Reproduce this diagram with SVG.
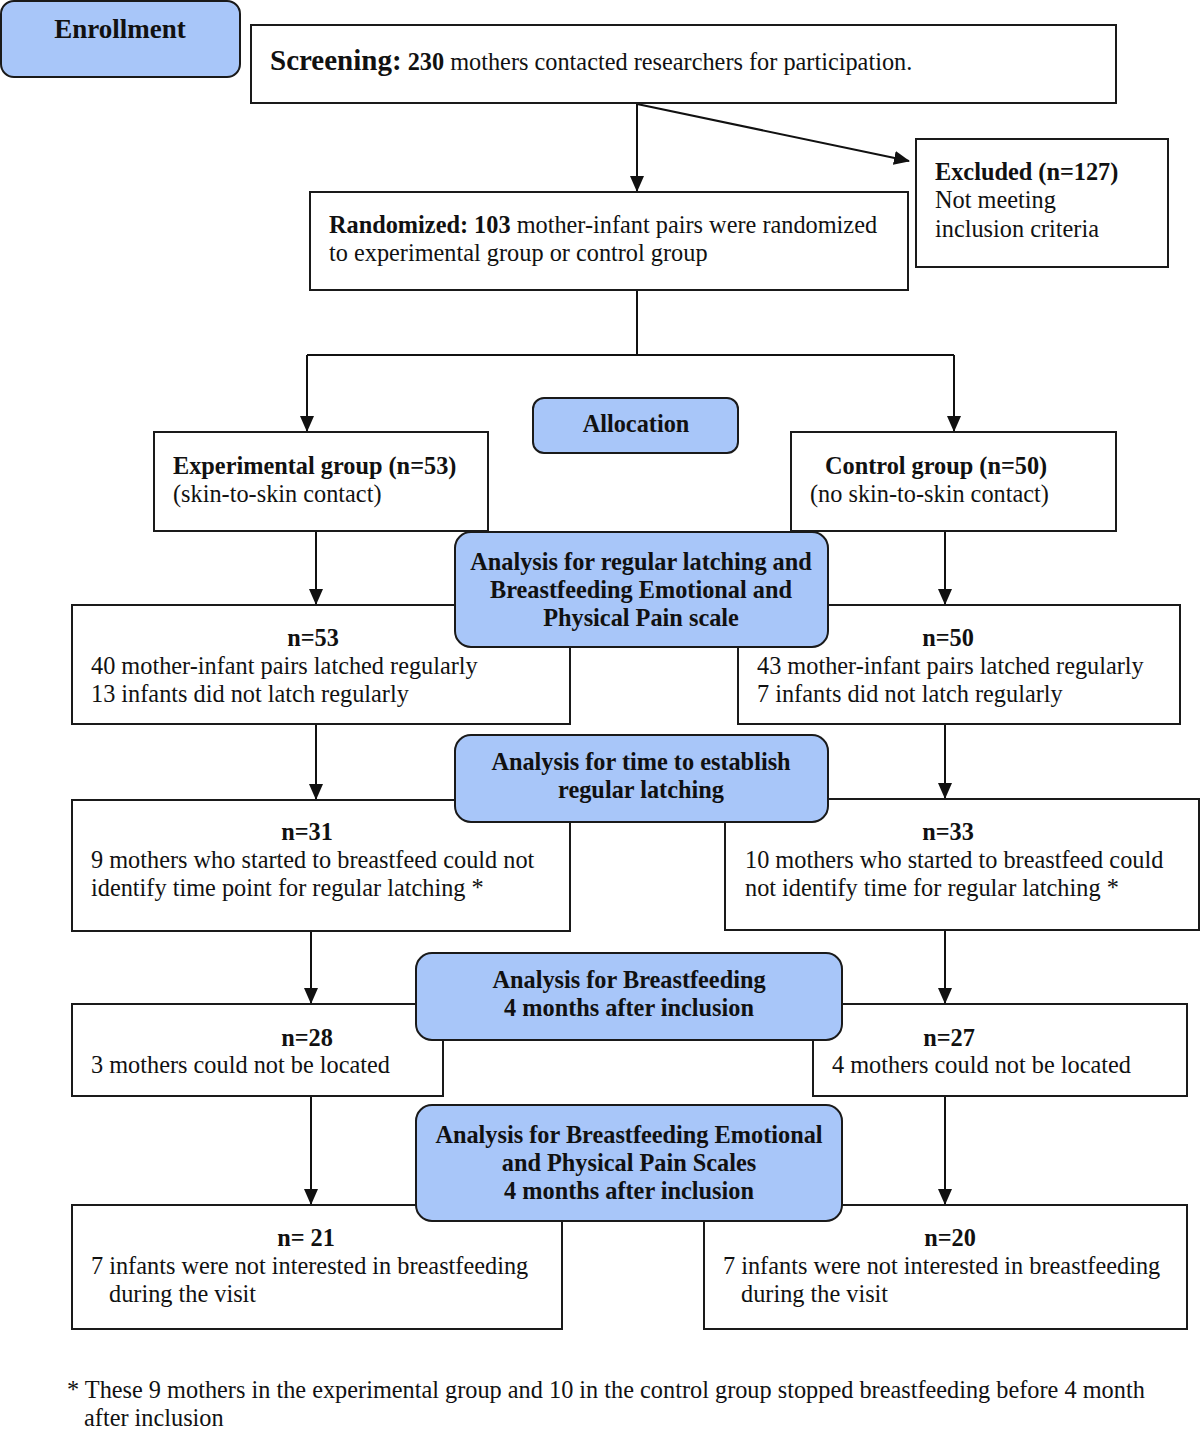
<svg xmlns="http://www.w3.org/2000/svg" width="1200" height="1432" viewBox="0 0 1200 1432">
<style>
text{font-family:"Liberation Serif","Times New Roman",serif;font-size:24.3px;fill:#111}
.b{font-weight:bold}
.c{text-anchor:middle}
.box{fill:#fff;stroke:#1a1a1a;stroke-width:2}
.blue{fill:#a8c6f9;stroke:#1a1a1a;stroke-width:2}
.ln{fill:none;stroke:#111;stroke-width:2}
</style>
<defs>
<marker id="ah" markerWidth="16" markerHeight="16" refX="15" refY="8" orient="auto" markerUnits="userSpaceOnUse">
<path d="M0,1 L16,8 L0,15 Z" fill="#111"/>
</marker>
</defs>
<rect width="1200" height="1432" fill="#fff"/>
<g id="connectors">
<path class="ln" d="M637,104 V191" marker-end="url(#ah)"/>
<path class="ln" d="M637,104 L909,161" marker-end="url(#ah)"/>
<path class="ln" d="M637,291 V354"/>
<path class="ln" d="M307,355 H954"/>
<path class="ln" d="M307,355 V431" marker-end="url(#ah)"/>
<path class="ln" d="M954,355 V431" marker-end="url(#ah)"/>
<path class="ln" d="M316,532 V604" marker-end="url(#ah)"/>
<path class="ln" d="M945,532 V604" marker-end="url(#ah)"/>
<path class="ln" d="M316,725 V799" marker-end="url(#ah)"/>
<path class="ln" d="M945,725 V798" marker-end="url(#ah)"/>
<path class="ln" d="M311,932 V1003" marker-end="url(#ah)"/>
<path class="ln" d="M945,931 V1003" marker-end="url(#ah)"/>
<path class="ln" d="M311,1097 V1204" marker-end="url(#ah)"/>
<path class="ln" d="M945,1097 V1204" marker-end="url(#ah)"/>
</g>
<g id="enrollment">
<rect class="blue" x="1" y="1" width="239" height="76" rx="13"/>
<text class="b c" x="120" y="38" style="font-size:27px">Enrollment</text>
</g>
<g id="screening">
<rect class="box" x="251" y="25" width="865" height="78"/>
<text x="270" y="70"><tspan class="b" style="font-size:29px">Screening:</tspan><tspan class="b"> 230</tspan> mothers contacted researchers for participation.</text>
</g>
<g id="excluded">
<rect class="box" x="916" y="139" width="252" height="128"/>
<text x="935" y="180" class="b">Excluded (n=127)</text>
<text x="935" y="208">Not meeting</text>
<text x="935" y="237">inclusion criteria</text>
</g>
<g id="randomized">
<rect class="box" x="310" y="192" width="598" height="98"/>
<text x="329" y="233"><tspan class="b">Randomized: 103</tspan> mother-infant pairs were randomized</text>
<text x="329" y="261">to experimental group or control group</text>
</g>
<g id="experimental">
<rect class="box" x="154" y="432" width="334" height="99"/>
<text x="173" y="474" class="b">Experimental group (n=53)</text>
<text x="173" y="502">(skin-to-skin contact)</text>
</g>
<g id="control">
<rect class="box" x="791" y="432" width="325" height="99"/>
<text x="825" y="474" class="b">Control group (n=50)</text>
<text x="810" y="502">(no skin-to-skin contact)</text>
</g>
<g id="exp-n53">
<rect class="box" x="72" y="605" width="498" height="119"/>
<text x="313" y="646" class="b c">n=53</text>
<text x="91" y="674">40 mother-infant pairs latched regularly</text>
<text x="91" y="702">13 infants did not latch regularly</text>
</g>
<g id="ctl-n50">
<rect class="box" x="738" y="605" width="442" height="119"/>
<text x="948" y="646" class="b c">n=50</text>
<text x="757" y="674">43 mother-infant pairs latched regularly</text>
<text x="757" y="702">7 infants did not latch regularly</text>
</g>
<g id="exp-n31">
<rect class="box" x="72" y="800" width="498" height="131"/>
<text x="307" y="840" class="b c">n=31</text>
<text x="91" y="868">9 mothers who started to breastfeed could not</text>
<text x="91" y="896">identify time point for regular latching *</text>
</g>
<g id="ctl-n33">
<rect class="box" x="725" y="799" width="474" height="131"/>
<text x="948" y="840" class="b c">n=33</text>
<text x="745" y="868">10 mothers who started to breastfeed could</text>
<text x="745" y="896">not identify time for regular latching *</text>
</g>
<g id="exp-n28">
<rect class="box" x="72" y="1004" width="371" height="92"/>
<text x="307" y="1046" class="b c">n=28</text>
<text x="91" y="1073">3 mothers could not be located</text>
</g>
<g id="ctl-n27">
<rect class="box" x="813" y="1004" width="374" height="92"/>
<text x="949" y="1046" class="b c">n=27</text>
<text x="832" y="1073">4 mothers could not be located</text>
</g>
<g id="exp-n21">
<rect class="box" x="72" y="1205" width="490" height="124"/>
<text x="306" y="1246" class="b c">n= 21</text>
<text x="91" y="1274">7 infants were not interested in breastfeeding</text>
<text x="109" y="1302">during the visit</text>
</g>
<g id="ctl-n20">
<rect class="box" x="704" y="1205" width="483" height="124"/>
<text x="950" y="1246" class="b c">n=20</text>
<text x="723" y="1274">7 infants were not interested in breastfeeding</text>
<text x="741" y="1302">during the visit</text>
</g>
<g id="allocation">
<rect class="blue" x="533" y="398" width="205" height="55" rx="11"/>
<text x="636" y="432" class="b c">Allocation</text>
</g>
<g id="analysis-latching">
<rect class="blue" x="455" y="532" width="373" height="115" rx="16"/>
<text x="641" y="570" class="b c">Analysis for regular latching and</text>
<text x="641" y="598" class="b c">Breastfeeding Emotional and</text>
<text x="641" y="626" class="b c">Physical Pain scale</text>
</g>
<g id="analysis-time">
<rect class="blue" x="455" y="735" width="373" height="87" rx="16"/>
<text x="641" y="770" class="b c">Analysis for time to establish</text>
<text x="641" y="798" class="b c">regular latching</text>
</g>
<g id="analysis-bf">
<rect class="blue" x="416" y="953" width="426" height="87" rx="16"/>
<text x="629" y="988" class="b c">Analysis for Breastfeeding</text>
<text x="629" y="1016" class="b c">4 months after inclusion</text>
</g>
<g id="analysis-pain">
<rect class="blue" x="416" y="1105" width="426" height="116" rx="16"/>
<text x="629" y="1143" class="b c">Analysis for Breastfeeding Emotional</text>
<text x="629" y="1171" class="b c">and Physical Pain Scales</text>
<text x="629" y="1199" class="b c">4 months after inclusion</text>
</g>
<g id="footnote">
<text x="67" y="1398">* These 9 mothers in the experimental group and 10 in the control group stopped breastfeeding before 4 month</text>
<text x="84" y="1426">after inclusion</text>
</g>
</svg>
